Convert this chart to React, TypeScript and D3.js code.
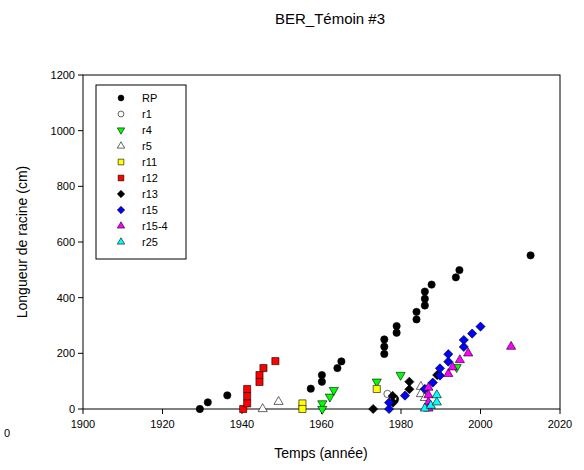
import React from "react";
import * as d3 from "d3";

type P = [number, number];

const RP: P[] = [[1929.4,0],[1931.4,24],[1936.3,49],[1957.3,73],[1960.1,122],[1960.1,98],[1964,147],[1965,171],
  [1975.8,250],[1975.8,224],[1975.8,198],[1978.9,298],[1978.9,274],[1983.9,349],[1983.9,322],
  [1986,422],[1986,396],[1986,372],[1987.7,447],[1993.8,473],[1994.7,499],[2012.6,552],[1978.5,35]];
const R1: P[] = [[1976.6,54],[1978,40]];
const R4: P[] = [[1960.2,20],[1960.2,0],[1962.1,44],[1963.1,68],[1973.9,98],[1979.9,122],[1994,150]];
const R5: P[] = [[1945.2,0],[1949.2,26],[1985,80],[1985,54],[1986,40]];
const R11: P[] = [[1955.2,20],[1955.2,0],[1973.9,72]];
const R12: P[] = [[1940.3,0],[1941.3,72],[1941.3,46],[1941.3,20],[1944.4,122],[1944.4,97],[1945.4,147],[1948.4,172]];
const R13: P[] = [[1973,0],[1977.9,47],[1978,23],[1982.1,98],[1982.1,71],[1989.1,122]];
const R15: P[] = [[1977,0],[1977,23],[1981,48],[1986,72],[1988,95],[1989.8,120],[1989.8,146],[1991.9,170],[1991.9,197],
  [1995.8,223],[1995.8,248],[1997.9,271],[2000,296]];
const R154: P[] = [[1986.9,77],[1986.9,50],[1986.9,24],[1986.9,2],[1991.9,126],[1993,150],[1994.8,176],[1996.9,200],[2007.7,224]];
const R25: P[] = [[1986,2],[1987.5,12],[1989,50],[1989,24]];

const xTicks = [1900, 1920, 1940, 1960, 1980, 2000, 2020];
const yTicks = [0, 200, 400, 600, 800, 1000, 1200];

type Shape = "circle" | "down" | "up" | "square" | "diamond";
const series: { name: string; data: P[]; shape: Shape; fill: string }[] = [
  { name: "RP", data: RP, shape: "circle", fill: "#000" },
  { name: "r1", data: R1, shape: "circle", fill: "#fff" },
  { name: "r4", data: R4, shape: "down", fill: "#00ff00" },
  { name: "r5", data: R5, shape: "up", fill: "#fff" },
  { name: "r11", data: R11, shape: "square", fill: "#ffff00" },
  { name: "r12", data: R12, shape: "square", fill: "#ff0000" },
  { name: "r13", data: R13, shape: "diamond", fill: "#000" },
  { name: "r15", data: R15, shape: "diamond", fill: "#0000ff" },
  { name: "r15-4", data: R154, shape: "up", fill: "#ff00ff" },
  { name: "r25", data: R25, shape: "up", fill: "#00ffff" },
];

function marker(shape: Shape, s: number) {
  switch (shape) {
    case "circle": return d3.symbol(d3.symbolCircle, s * s * 0.75)()!;
    case "square": return d3.symbol(d3.symbolSquare, s * s * 0.9)()!;
    case "diamond": return d3.symbol(d3.symbolSquare, s * s * 0.75)()!;
    default: return d3.symbol(d3.symbolTriangle, s * s * 0.65)()!;
  }
}
function rot(shape: Shape) {
  return shape === "down" ? " rotate(180)" : shape === "diamond" ? " rotate(45)" : "";
}

const x = d3.scaleLinear().domain([1900, 2020]).range([83, 560]);
const y = d3.scaleLinear().domain([0, 1200]).range([409, 75]);
const font = "Arial, 'Liberation Sans', sans-serif";

export default function App() {
  return (
    <svg width={584} height={470} style={{ position: "absolute", left: 0, top: 0, background: "#fff" }} fontFamily={font}>
      <text x={330} y={24} textAnchor="middle" fontSize={15}>BER_Témoin #3</text>
      <text x={4} y={437} fontSize={11}>0</text>
      <rect x={83} y={75} width={477} height={334} fill="none" stroke="#000" />
      {xTicks.map((t) => (
        <g key={t}>
          <line x1={x(t)} x2={x(t)} y1={409} y2={414} stroke="#000" />
          <text x={x(t)} y={428} textAnchor="middle" fontSize={11}>{t}</text>
        </g>
      ))}
      {yTicks.map((t) => (
        <g key={t}>
          <line x1={78} x2={83} y1={y(t)} y2={y(t)} stroke="#000" />
          <text x={75} y={y(t) + 4} textAnchor="end" fontSize={11}>{t}</text>
        </g>
      ))}
      <text x={321} y={458} textAnchor="middle" fontSize={14}>Temps (année)</text>
      <text transform="translate(27,242) rotate(-90)" textAnchor="middle" fontSize={14}>Longueur de racine (cm)</text>
      {series.map((s) => (
        <g key={s.name}>
          {s.data.map((d, i) => (
            <path key={i} d={marker(s.shape, 7.5)} fill={s.fill} stroke="#000" strokeWidth={0.6}
              transform={`translate(${x(d[0])},${y(d[1])})${rot(s.shape)}`} />
          ))}
        </g>
      ))}
      <rect x={96} y={85} width={90} height={174} fill="#fff" stroke="#000" />
      {series.map((s, i) => (
        <g key={s.name} transform={`translate(0,${98 + i * 16})`}>
          <path d={marker(s.shape, 6)} fill={s.fill} stroke="#000" strokeWidth={0.6}
            transform={`translate(121,0)${rot(s.shape)}`} />
          <text x={142} y={4} fontSize={11}>{s.name}</text>
        </g>
      ))}
    </svg>
  );
}
